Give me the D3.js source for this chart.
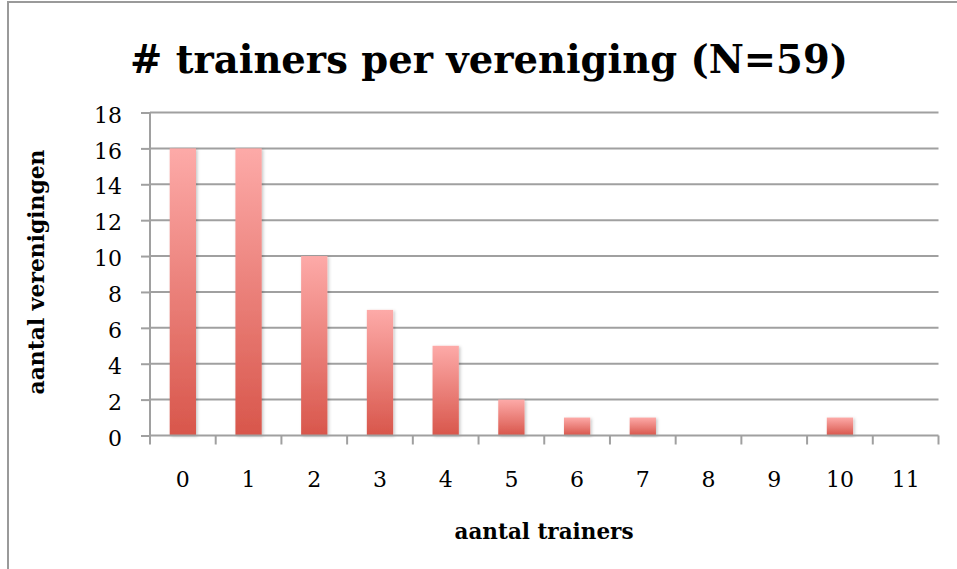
<!DOCTYPE html>
<html>
<head>
<meta charset="utf-8">
<script src="https://cdn.jsdelivr.net/npm/d3@7"></script>
<style>
  body { margin: 0; background: #fff; }
  svg { display: block; font-family: "DejaVu Serif", "Liberation Serif", serif; }
</style>
</head>
<body>
<div id="chart"></div>
<script>
// data
var categories = ["0", "1", "2", "3", "4", "5", "6", "7", "8", "9", "10", "11"];
var counts = [16, 16, 10, 7, 5, 2, 1, 1, 0, 0, 1, 0];
var yTicks = [0, 2, 4, 6, 8, 10, 12, 14, 16, 18];

var width = 957, height = 569;
var margin = { left: 150, right: 18.5, top: 112.5, bottom: 133.5 };

var svg = d3.select("#chart").append("svg")
    .attr("width", width)
    .attr("height", height);

var defs = svg.append("defs");
var grad = defs.append("linearGradient")
    .attr("id", "barGrad")
    .attr("x1", "0%").attr("x2", "0%")
    .attr("y1", "0%").attr("y2", "100%");
grad.append("stop").attr("offset", "0%").attr("stop-color", "#fdaaa8");
grad.append("stop").attr("offset", "100%").attr("stop-color", "#d8564b");

var shadow = defs.append("filter")
    .attr("id", "shadow")
    .attr("x", "-30%").attr("y", "-10%")
    .attr("width", "160%").attr("height", "120%");
shadow.append("feDropShadow")
    .attr("dx", 1.5).attr("dy", 1)
    .attr("stdDeviation", 1.5)
    .attr("flood-color", "#000")
    .attr("flood-opacity", 0.22);

// scale font size so a label covers the same width as in the picture
function fitText(sel, target) {
    var fs = parseFloat(sel.attr("font-size"));
    var w = sel.node().getComputedTextLength();
    if (w > 0) sel.attr("font-size", (fs * target / w).toFixed(2) + "px");
}

// chart frame
svg.append("rect")
    .attr("x", 8).attr("y", 2)
    .attr("width", 960).attr("height", 580)
    .attr("fill", "none")
    .attr("stroke", "#9a9a9a")
    .attr("stroke-width", 2);

var x = d3.scaleBand()
    .domain(categories)
    .range([margin.left, width - margin.right])
    .paddingInner(0.6)
    .paddingOuter(0.3);

var y = d3.scaleLinear()
    .domain([0, 18])
    .range([height - margin.bottom, margin.top]);

// gridlines + y axis
var yAxis = d3.axisLeft(y)
    .tickValues(yTicks)
    .tickSize(9)
    .tickPadding(19);

var gy = svg.append("g")
    .attr("transform", "translate(" + margin.left + ",0)")
    .call(yAxis);
gy.select(".domain").remove();
gy.selectAll(".tick line").attr("stroke", "#a0a0a0").attr("stroke-width", 2);
gy.selectAll(".tick text")
    .attr("font-size", "22px")
    .attr("font-family", "DejaVu Serif, serif")
    .attr("fill", "#000")
    .attr("dy", "0.44em");

svg.append("g")
    .selectAll("line")
    .data(yTicks.filter(function (d) { return d > 0; }))
    .enter().append("line")
    .attr("x1", margin.left)
    .attr("x2", width - margin.right)
    .attr("y1", function (d) { return y(d); })
    .attr("y2", function (d) { return y(d); })
    .attr("stroke", "#a0a0a0")
    .attr("stroke-width", 2);

svg.append("line")
    .attr("x1", margin.left).attr("x2", margin.left)
    .attr("y1", y(18)).attr("y2", y(0))
    .attr("stroke", "#a0a0a0")
    .attr("stroke-width", 2);

// bars
var barData = categories.map(function (c, i) { return { cat: c, value: counts[i] }; })
    .filter(function (d) { return d.value > 0; });

svg.append("g")
    .selectAll("rect")
    .data(barData)
    .enter().append("rect")
    .attr("x", function (d) { return x(d.cat); })
    .attr("y", function (d) { return y(d.value); })
    .attr("width", x.bandwidth())
    .attr("height", function (d) { return y(0) - y(d.value); })
    .attr("fill", "url(#barGrad)")
    .attr("filter", "url(#shadow)");

// x axis
var step = x.step();
var bounds = d3.range(categories.length + 1).map(function (i) { return margin.left + i * step; });

svg.append("line")
    .attr("x1", margin.left).attr("x2", width - margin.right)
    .attr("y1", y(0)).attr("y2", y(0))
    .attr("stroke", "#a0a0a0")
    .attr("stroke-width", 2);

svg.append("g")
    .selectAll("line")
    .data(bounds)
    .enter().append("line")
    .attr("x1", function (d) { return d; })
    .attr("x2", function (d) { return d; })
    .attr("y1", y(0))
    .attr("y2", y(0) + 9)
    .attr("stroke", "#a0a0a0")
    .attr("stroke-width", 2);

svg.append("g")
    .selectAll("text")
    .data(categories)
    .enter().append("text")
    .attr("x", function (d) { return x(d) + x.bandwidth() / 2; })
    .attr("y", 487)
    .attr("text-anchor", "middle")
    .attr("font-size", "22px")
    .text(function (d) { return d; });

// titles
var title = svg.append("text")
    .attr("x", 489)
    .attr("y", 73)
    .attr("text-anchor", "middle")
    .attr("font-size", "40px")
    .attr("font-weight", "bold")
    .text("# trainers per vereniging (N=59)");
fitText(title, 718);

var xTitle = svg.append("text")
    .attr("x", 544)
    .attr("y", 539)
    .attr("text-anchor", "middle")
    .attr("font-size", "20px")
    .attr("font-weight", "bold")
    .text("aantal trainers");
fitText(xTitle, 179);

var yTitle = svg.append("text")
    .attr("transform", "translate(44,272) rotate(-90)")
    .attr("text-anchor", "middle")
    .attr("font-size", "20px")
    .attr("font-weight", "bold")
    .text("aantal verenigingen");
fitText(yTitle, 245);
</script>
</body>
</html>
